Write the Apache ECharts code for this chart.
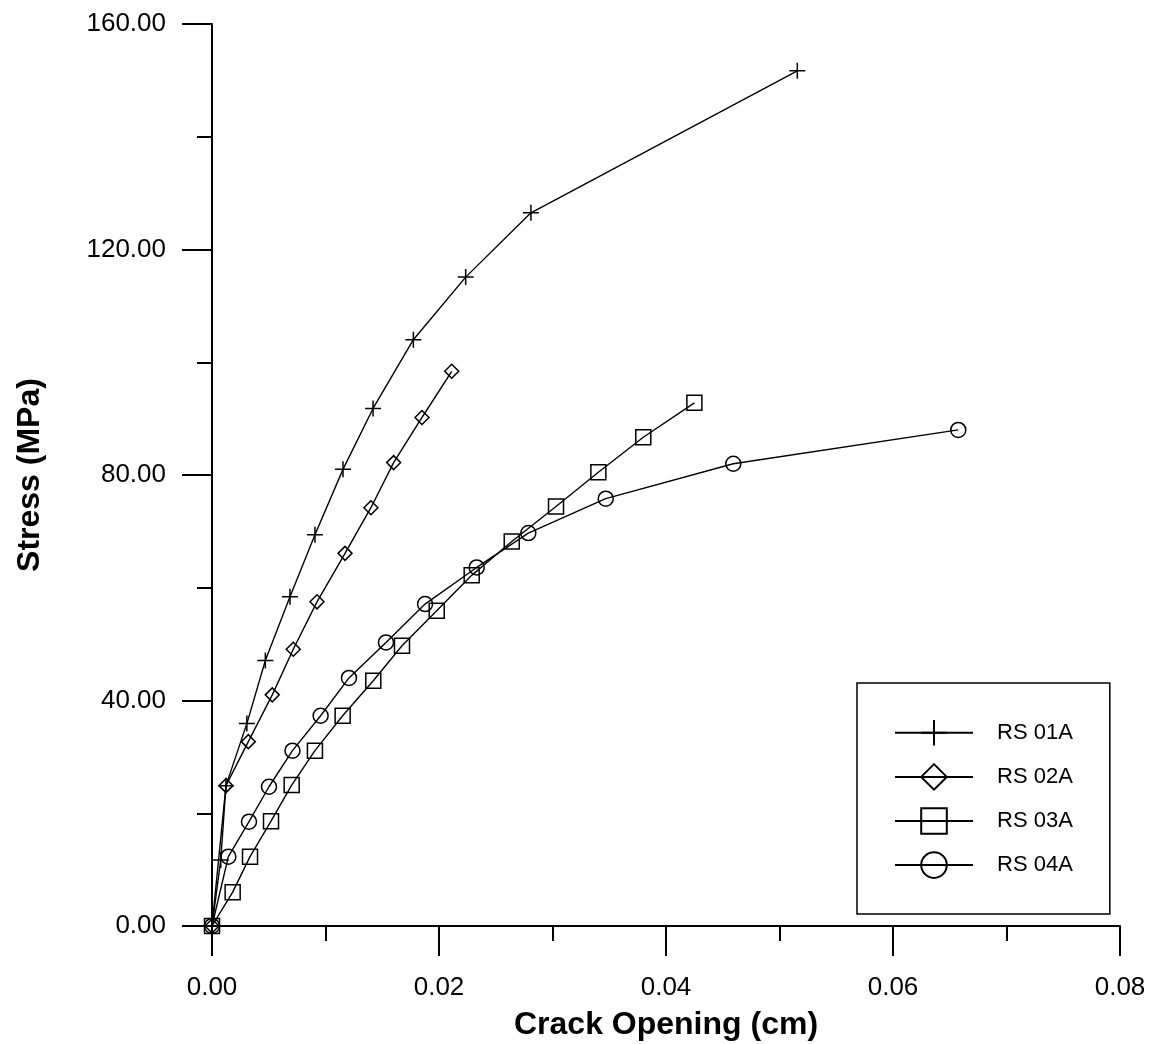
<!DOCTYPE html>
<html>
<head>
<meta charset="utf-8">
<script src="https://cdn.jsdelivr.net/npm/echarts@6/dist/echarts.min.js"></script>
<style>
html,body{margin:0;padding:0;background:#fff;}
#chart{width:1153px;height:1044px;}
</style>
</head>
<body>
<div id="chart"></div>
<script>
// ---- Data ----
var seriesNames = ['RS 01A', 'RS 02A', 'RS 03A', 'RS 04A'];

var rs01aX = [0, 0.00077, 0.00123, 0.00307, 0.00470, 0.00687, 0.00907, 0.01154, 0.01419, 0.01774, 0.02235, 0.02810, 0.05157];
var rs01aY = [0, 11.7, 24.9, 35.9, 47.1, 58.4, 69.4, 81.0, 91.8, 104.0, 115.1, 126.5, 151.7];

var rs02aX = [0, 0.00123, 0.00320, 0.00531, 0.00716, 0.00925, 0.01172, 0.01400, 0.01600, 0.01850, 0.02112];
var rs02aY = [0, 24.9, 32.7, 41.0, 49.1, 57.5, 66.1, 74.2, 82.2, 90.2, 98.4];

var rs03aX = [0, 0.00182, 0.00335, 0.00520, 0.00702, 0.00907, 0.01151, 0.01421, 0.01674, 0.01980, 0.02288, 0.02641, 0.03031, 0.03404, 0.03800, 0.04250];
var rs03aY = [0, 6.0, 12.3, 18.6, 25.0, 31.1, 37.3, 43.5, 49.7, 55.9, 62.2, 68.2, 74.4, 80.5, 86.7, 92.8];

var rs04aX = [0, 0.00144, 0.00326, 0.00502, 0.00709, 0.00957, 0.01207, 0.01533, 0.01877, 0.02332, 0.02787, 0.03469, 0.04593, 0.06575];
var rs04aY = [0, 12.3, 18.5, 24.7, 31.1, 37.3, 44.0, 50.3, 57.1, 63.6, 69.7, 75.8, 82.0, 88.0];

var xTicks = [0, 0.02, 0.04, 0.06, 0.08];
var yTicks = [0, 40, 80, 120, 160];

function pairs(xs, ys) {
  return xs.map(function (x, i) { return [x, ys[i]]; });
}

var FONT = '"Liberation Sans", Arial, sans-serif';
var plusPath = 'path://M0,-1L0,1M-1,0L1,0';

function mkSeries(name, data, symbol, size) {
  return {
    name: name,
    type: 'line',
    data: data,
    symbol: symbol,
    symbolSize: size,
    showAllSymbol: true,
    animation: false,
    lineStyle: { color: '#000', width: 1.4 },
    itemStyle: { color: 'rgba(0,0,0,0)', borderColor: '#000', borderWidth: 1.5 },
    emphasis: { disabled: true }
  };
}

var chart = echarts.init(document.getElementById('chart'), null, { renderer: 'canvas' });
chart.setOption({
  backgroundColor: '#fff',
  animation: false,
  grid: { left: 212, right: 33, top: 24, bottom: 118, containLabel: false, outerBoundsMode: 'none' },
  xAxis: {
    type: 'value',
    min: xTicks[0],
    max: xTicks[xTicks.length - 1],
    interval: xTicks[1] - xTicks[0],
    name: 'Crack Opening (cm)',
    nameLocation: 'middle',
    nameGap: 83,
    nameTextStyle: { fontFamily: FONT, fontWeight: 'bold', fontSize: 32, color: '#000' },
    axisLine: { show: true, onZero: false, lineStyle: { color: '#000', width: 2 } },
    axisTick: { show: true, inside: false, length: 30, lineStyle: { color: '#000', width: 2 } },
    minorTick: { show: true, splitNumber: 2, length: 15, lineStyle: { color: '#000', width: 2 } },
    splitLine: { show: false },
    axisLabel: {
      margin: 49,
      fontFamily: FONT, fontSize: 26, color: '#000',
      formatter: function (v) { return v.toFixed(2); }
    }
  },
  yAxis: {
    type: 'value',
    min: yTicks[0],
    max: yTicks[yTicks.length - 1],
    interval: yTicks[1] - yTicks[0],
    name: 'Stress (MPa)',
    nameLocation: 'middle',
    nameRotate: 90,
    nameGap: 166,
    nameTextStyle: { fontFamily: FONT, fontWeight: 'bold', fontSize: 32, color: '#000' },
    axisLine: { show: true, onZero: false, lineStyle: { color: '#000', width: 2 } },
    axisTick: { show: true, inside: false, length: 30, lineStyle: { color: '#000', width: 2 } },
    minorTick: { show: true, splitNumber: 2, length: 15, lineStyle: { color: '#000', width: 2 } },
    splitLine: { show: false },
    axisLabel: {
      margin: 46,
      fontFamily: FONT, fontSize: 26, color: '#000',
      formatter: function (v) { return v.toFixed(2); }
    }
  },
  legend: {
    show: true,
    orient: 'vertical',
    left: 857,
    top: 683,
    padding: [36, 37, 35, 37],
    itemWidth: 78,
    itemHeight: 32,
    itemGap: 16.5,
    borderColor: '#000',
    borderWidth: 1.5,
    backgroundColor: '#fff',
    selectedMode: false,
    textStyle: { fontFamily: FONT, fontSize: 22, color: '#000', padding: [0, 0, 0, 19] },
    data: seriesNames
  },
  series: [
    mkSeries(seriesNames[0], pairs(rs01aX, rs01aY), plusPath, 16),
    mkSeries(seriesNames[1], pairs(rs02aX, rs02aY), 'diamond', 14),
    mkSeries(seriesNames[2], pairs(rs03aX, rs03aY), 'rect', 15),
    mkSeries(seriesNames[3], pairs(rs04aX, rs04aY), 'circle', 15)
  ]
});
</script>
</body>
</html>
